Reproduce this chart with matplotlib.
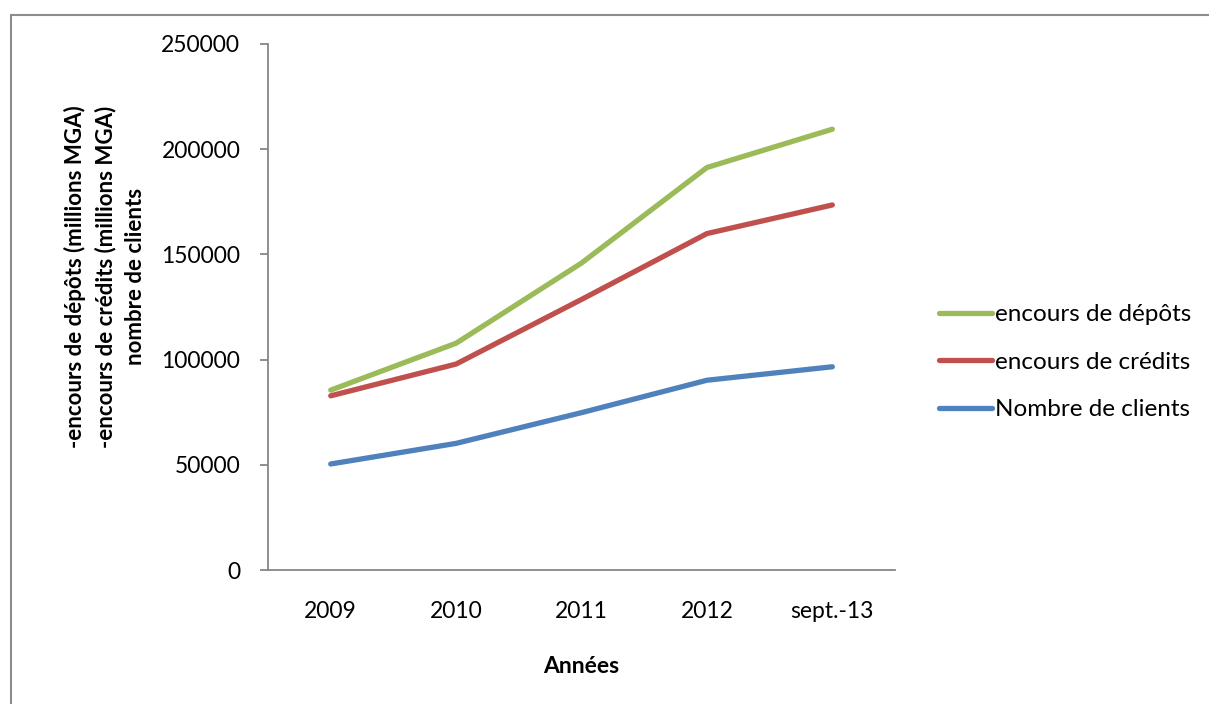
import matplotlib.pyplot as plt
from matplotlib.patches import Rectangle

# Series (values in millions MGA / number of clients)
annees = ['2009', '2010', '2011', '2012', 'sept.-13']
depots = [85500, 107800, 145900, 191300, 209500]
credits = [82800, 97900, 128600, 159900, 173500]
clients = [50400, 60200, 74800, 90200, 96600]

plt.rcParams['font.family'] = ['Lato', 'DejaVu Sans']

fig = plt.figure(figsize=(12.09, 7.04), dpi=100)
ax = fig.add_axes([0.2217, 0.1903, 0.5186, 0.7472])

x = range(len(annees))
ax.plot(x, depots, color='#9BBB59', lw=3.8, solid_capstyle='round', solid_joinstyle='round',
        label='encours de dépôts')
ax.plot(x, credits, color='#C0504D', lw=3.8, solid_capstyle='round', solid_joinstyle='round',
        label='encours de crédits')
ax.plot(x, clients, color='#4F81BD', lw=3.8, solid_capstyle='round', solid_joinstyle='round',
        label='Nombre de clients')

ax.set_xlim(-0.5, len(annees) - 0.5)
ax.set_ylim(0, 250000)
ax.set_yticks(range(0, 250001, 50000))
ax.set_xticks(list(x))
ax.set_xticklabels(annees)

for side in ['top', 'right']:
    ax.spines[side].set_visible(False)
for side in ['left', 'bottom']:
    ax.spines[side].set_color('#868686')
    ax.spines[side].set_linewidth(1.3)

ax.tick_params(axis='y', length=6, width=1.3, color='#868686', pad=14, labelsize=16.5)
ax.tick_params(axis='x', length=0, pad=22, labelsize=16.5)

ax.set_xlabel('Années', fontsize=16.5, fontweight='bold', labelpad=25)

fig.text(0.087, 0.607, '-encours de dépôts (millions MGA)\n-encours de crédits (millions MGA)\nnombre de clients',
         rotation=90, ha='center', va='center', fontsize=16, fontweight='bold',
         linespacing=1.5, multialignment='center')

ax.legend(loc='center left', bbox_to_anchor=(1.035, 0.395), frameon=False, fontsize=17.5,
          handlelength=2.2, handletextpad=0.1, labelspacing=1.08)

# chart border
fig.patches.append(Rectangle((11 / 1209, -0.1), 1.2, 1 - 15 / 704 + 0.1,
                             transform=fig.transFigure, fill=False,
                             edgecolor='#8c8c8c', lw=1.5))

fig.savefig('out.png', dpi=100)
